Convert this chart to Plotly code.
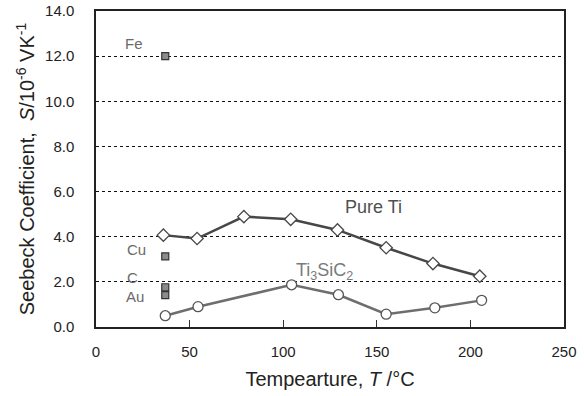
import plotly.graph_objects as go

# Data
ti_T = [36, 54, 79, 104, 129, 155, 180, 205]
ti_S = [4.07, 3.92, 4.89, 4.77, 4.30, 3.51, 2.81, 2.25]
tsc_T = [37, 54.5, 104.5, 129.5, 155, 181, 206]
tsc_S = [0.50, 0.90, 1.87, 1.43, 0.57, 0.85, 1.18]
ref_names = ["Fe", "Cu", "C", "Au"]
ref_T = [37, 37, 37, 37]
ref_S = [12.0, 3.13, 1.76, 1.41]
ref_label_T = [20.5, 21.5, 19.5, 21]
ref_label_S = [12.55, 3.45, 2.2, 1.35]
x_ticks = [0, 50, 100, 150, 200, 250]
y_ticks = [0, 2, 4, 6, 8, 10, 12, 14]

FONT = "Liberation Sans, Arial, sans-serif"

fig = go.Figure()
fig.add_trace(go.Scatter(
    x=ti_T, y=ti_S, mode="lines+markers",
    line=dict(color="#474747", width=2.5),
    marker=dict(symbol="diamond", size=9.5, color="white",
                line=dict(color="#474747", width=1.3)),
    showlegend=False))
fig.add_trace(go.Scatter(
    x=tsc_T, y=tsc_S, mode="lines+markers",
    line=dict(color="#6e6e6e", width=2.5),
    marker=dict(symbol="circle", size=10, color="white",
                line=dict(color="#555555", width=1.3)),
    showlegend=False))
fig.add_trace(go.Scatter(
    x=ref_T, y=ref_S, mode="markers",
    marker=dict(symbol="square", size=7, color="#8c8c8c",
                line=dict(color="#333333", width=1.2)),
    showlegend=False))

for name, lx, ly in zip(ref_names, ref_label_T, ref_label_S):
    fig.add_annotation(x=lx, y=ly, text=name, showarrow=False,
                       font=dict(family=FONT, size=15, color="#6a6a6a"))
fig.add_annotation(x=148, y=5.3, text="Pure Ti", showarrow=False,
                   font=dict(family=FONT, size=18, color="#505050"))
fig.add_annotation(x=122, y=2.45, text="Ti<sub>3</sub>SiC<sub>2</sub>", showarrow=False,
                   font=dict(family=FONT, size=18, color="#7a7a7a"))

fig.update_layout(
    width=584, height=396,
    margin=dict(l=96, r=20, t=11, b=69),
    paper_bgcolor="white", plot_bgcolor="white",
    font=dict(family=FONT, size=15, color="#222222"),
    xaxis=dict(range=[0, 250], tickvals=x_ticks,
               ticktext=[str(v) for v in x_ticks],
               ticks="inside", ticklen=7, tickcolor="#333333", tickwidth=1.2,
               ticklabelstandoff=10,
               showgrid=False, zeroline=False, automargin=False,
               showline=True, linecolor="#222222", linewidth=1.5, mirror=True,
               tickfont=dict(size=15, color="#222222"),
               title=dict(text="Tempearture, <i>T</i> /°C",
                          font=dict(size=20, color="#222222"), standoff=13)),
    yaxis=dict(range=[0, 14], tickvals=y_ticks,
               ticktext=[f"{v:.1f}" for v in y_ticks],
               ticks="", showgrid=True, gridcolor="#111111", griddash="dot", gridwidth=1,
               ticklabelstandoff=17,
               zeroline=False, automargin=False,
               showline=True, linecolor="#222222", linewidth=1.5, mirror=True,
               tickfont=dict(size=15, color="#222222"),
               title=dict(text="Seebeck Coefficient,  <i>S</i>/10<sup>-6</sup> VK<sup>-1</sup>",
                          font=dict(size=20, color="#222222"), standoff=5)),
)

fig.write_html("out.html", config={"displayModeBar": False},
               post_script="document.body.style.margin='0';")
